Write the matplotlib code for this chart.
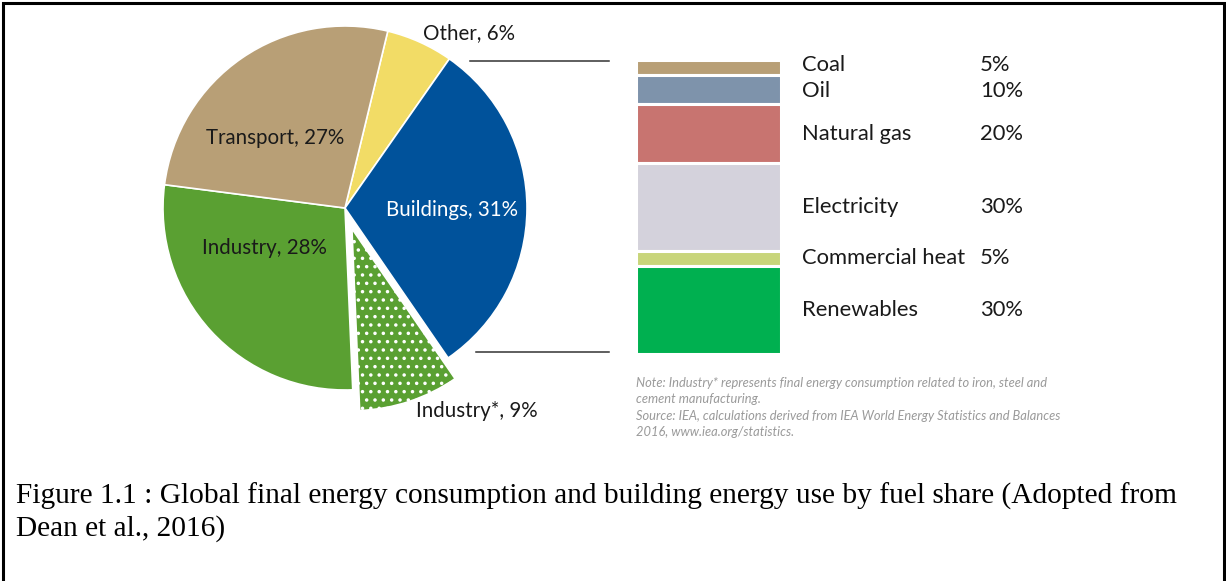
import matplotlib
matplotlib.use("Agg")
import matplotlib.pyplot as plt
import numpy as np

# ---- data ----
sectors = ["Other", "Buildings", "Industry*", "Industry", "Transport"]
sector_share = [6, 31, 9, 28, 27]
sector_colors = ["#f2dc66", "#00529b", "#5aa032", "#5aa032", "#b89f76"]

fuels = ["Coal", "Oil", "Natural gas", "Electricity", "Commercial heat", "Renewables"]
fuel_share = [5, 10, 20, 30, 5, 30]
fuel_colors = ["#b89f76", "#7e93ab", "#c87470", "#d4d2dc", "#c8d57a", "#00b050"]

note_lines = [
    "Note: Industry* represents final energy consumption related to iron, steel and",
    "cement manufacturing.",
    "Source: IEA, calculations derived from IEA World Energy Statistics and Balances",
    "2016, www.iea.org/statistics.",
]
caption_lines = [
    "Figure 1.1 : Global final energy consumption and building energy use by fuel share (Adopted from",
    "Dean et al., 2016)",
]

plt.rcParams["hatch.linewidth"] = 1.3

W, H = 1226, 581
fig = plt.figure(figsize=(W / 100, H / 100), dpi=100)
fig.patch.set_facecolor("white")

# background pixel axes
bg = fig.add_axes([0, 0, 1, 1])
bg.set_xlim(0, W)
bg.set_ylim(H, 0)
bg.axis("off")

# border (left, top, right)
bg.plot([2.5, 2.5, 1223.5, 1223.5], [H + 5, 2.5, 2.5, H + 5], color="black", lw=2.2,
        solid_joinstyle="miter", clip_on=False)

# ---- pie ----
cx, cy, r = 345, 208, 182
half = 1.1 * r
pax = fig.add_axes([(cx - half) / W, (H - cy - half) / H, 2 * half / W, 2 * half / H])
explode = [0.12 if s == "Industry*" else 0 for s in sectors]
wedges, _ = pax.pie(sector_share, colors=sector_colors, startangle=76.4, counterclock=False,
                    explode=explode, wedgeprops=dict(edgecolor="white", linewidth=1.2))
for w, s in zip(wedges, sectors):
    if s == "Industry*":
        w.set_hatch("..")
pax.set_xlim(-1.1, 1.1)
pax.set_ylim(-1.1, 1.1)
pax.set_aspect("equal")
pax.axis("off")

# ---- stacked bar ----
bx0, bx1, by0, by1 = 636, 781, 60, 354
bax = fig.add_axes([bx0 / W, (H - by1) / H, (bx1 - bx0) / W, (by1 - by0) / H])
bottoms = np.concatenate([[0], np.cumsum(fuel_share)[:-1]])
bax.bar([0] * len(fuel_share), fuel_share, bottom=bottoms, width=1, color=fuel_colors,
        edgecolor="white", linewidth=2.2)
bax.set_xlim(-0.5, 0.5)
bax.set_ylim(100, 0)
bax.axis("off")

# overlay for text on top
top = fig.add_axes([0, 0, 1, 1])
top.set_xlim(0, W)
top.set_ylim(H, 0)
top.axis("off")
top.patch.set_alpha(0)

lab_font = dict(family="Lato", fontsize=14.8)
label_pos = {
    "Other": (469, 33, "#1a1a1a"),
    "Transport": (275, 138, "#1a1a1a"),
    "Buildings": (452, 210, "white"),
    "Industry": (264, 248, "#1a1a1a"),
    "Industry*": (477, 411, "#1a1a1a"),
}
for s, v in zip(sectors, sector_share):
    x, y, c = label_pos[s]
    top.text(x, y, f"{s}, {v}%", ha="center", va="center", color=c, **lab_font)

# connector lines
top.plot([470, 609], [61, 61], color="#333333", lw=1.1)
top.plot([476, 609], [352, 352], color="#333333", lw=1.1)

total = sum(fuel_share)
bar_font = dict(family="Lato", fontsize=15.8)
for f, v, b in zip(fuels, fuel_share, bottoms):
    yc = by0 + (b + v / 2) / total * (by1 - by0)
    if f == "Coal":
        yc -= 2
    if f == "Oil":
        yc += 2
    top.text(802, yc, f, ha="left", va="center", color="#1a1a1a", **bar_font)
    top.text(980, yc, f"{v}%", ha="left", va="center", color="#1a1a1a", **bar_font)

# note
for i, line in enumerate(note_lines):
    top.text(636, 383 + i * 16.3, line, ha="left", va="center", color="#9a9a9a",
             family="Lato", style="italic", fontsize=9.3)

# caption
for i, line in enumerate(caption_lines):
    top.text(16, 496 + i * 33, line, ha="left", va="center", color="black",
             family="Liberation Serif", fontsize=21.2)

fig.savefig("out.png", dpi=100)
